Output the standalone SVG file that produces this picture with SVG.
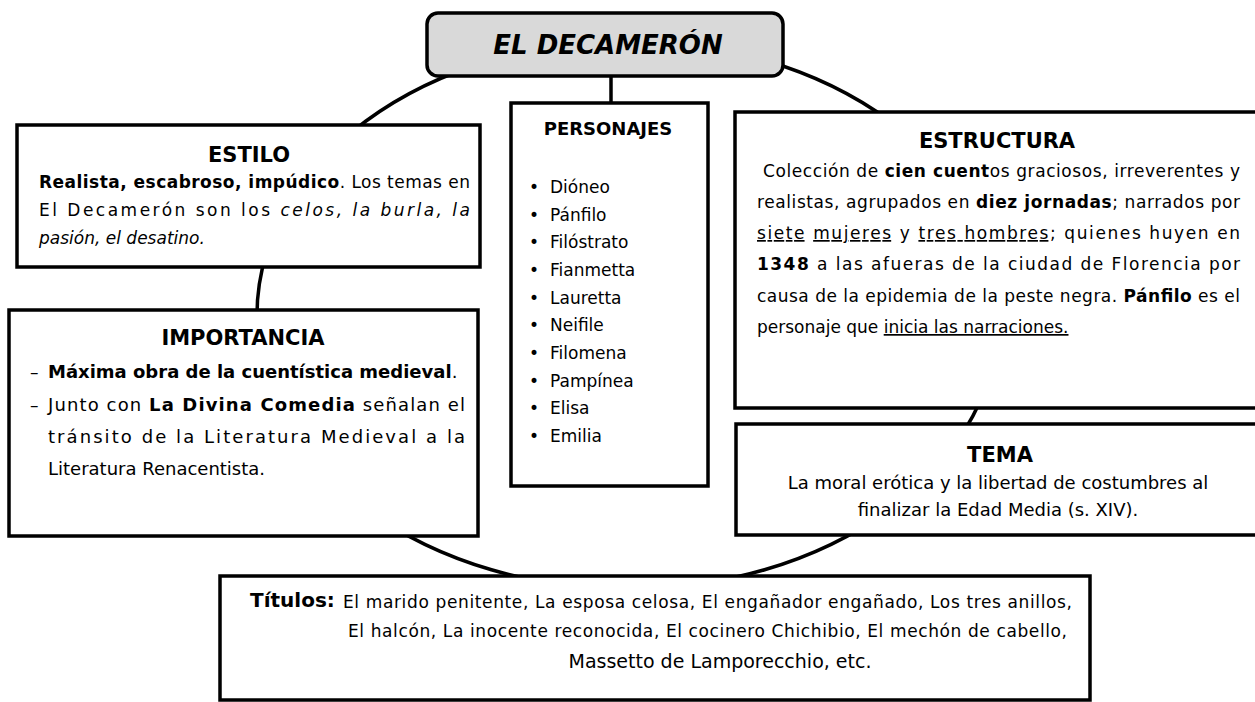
<svg xmlns="http://www.w3.org/2000/svg" width="1255" height="702" viewBox="0 0 1255 702">
<style>
.box{fill:#fff;stroke:#000;stroke-width:3.5}
.ttl{fill:#d9d9d9;stroke:#000;stroke-width:3.5}
.con{fill:none;stroke:#000;stroke-width:3.5}
text{font-family:'DejaVu Sans',sans-serif;fill:#000}
.h{font-weight:bold;font-size:21px;text-anchor:middle}
.t18{font-size:18px}
.t17{font-size:17px}
.c{text-anchor:middle}
.b{font-weight:bold}
.i{font-style:italic}
.u{text-decoration:underline}
</style>
<rect width="1255" height="702" fill="#fff"/>
<g id="connectors">
<ellipse class="con" cx="628" cy="315" rx="371" ry="274"/>
<line class="con" x1="611" y1="76" x2="611" y2="104"/>
</g>
<g id="title">
<rect class="ttl" x="427" y="13" width="356" height="63" rx="11"/>
<text x="608" y="54" text-anchor="middle" font-size="26" font-weight="bold" font-style="italic">EL DECAMERÓN</text>
</g>
<g id="estilo">
<rect class="box" x="17" y="125" width="463" height="142"/>
<text class="h" x="249" y="162">ESTILO</text>
<text class="t17" x="39" y="188" textLength="431" lengthAdjust="spacing"><tspan class="b">Realista, escabroso, impúdico</tspan>. Los temas en</text>
<text class="t17" x="39" y="216" textLength="431" lengthAdjust="spacing">El Decamerón son los <tspan class="i">celos, la burla, la</tspan></text>
<text class="t17 i" x="39" y="244">pasión, el desatino.</text>
</g>
<g id="importancia">
<rect class="box" x="9" y="310" width="469" height="226"/>
<text class="h" x="243" y="345">IMPORTANCIA</text>
<text class="t17" x="30" y="378">–</text>
<text class="t18" x="48" y="378"><tspan class="b">Máxima obra de la cuentística medieval</tspan>.</text>
<text class="t17" x="30" y="411">–</text>
<text class="t18" x="48" y="411" textLength="417" lengthAdjust="spacing">Junto con <tspan class="b">La Divina Comedia</tspan> señalan el</text>
<text class="t18" x="48" y="443" textLength="417" lengthAdjust="spacing">tránsito de la Literatura Medieval a la</text>
<text class="t18" x="48" y="475">Literatura Renacentista.</text>
</g>
<g id="personajes">
<rect class="box" x="511" y="103" width="197" height="383"/>
<text x="608" y="135" text-anchor="middle" font-size="18" font-weight="bold">PERSONAJES</text>
<g class="t17">
<text x="529" y="193">•</text><text x="550" y="193">Dióneo</text>
<text x="529" y="221">•</text><text x="550" y="221">Pánfilo</text>
<text x="529" y="248">•</text><text x="550" y="248">Filóstrato</text>
<text x="529" y="276">•</text><text x="550" y="276">Fianmetta</text>
<text x="529" y="304">•</text><text x="550" y="304">Lauretta</text>
<text x="529" y="331">•</text><text x="550" y="331">Neifile</text>
<text x="529" y="359">•</text><text x="550" y="359">Filomena</text>
<text x="529" y="387">•</text><text x="550" y="387">Pampínea</text>
<text x="529" y="414">•</text><text x="550" y="414">Elisa</text>
<text x="529" y="442">•</text><text x="550" y="442">Emilia</text>
</g>
</g>
<g id="estructura">
<rect class="box" x="735" y="112" width="530" height="296"/>
<text class="h" x="997" y="148">ESTRUCTURA</text>
<text class="t17" x="763" y="177" textLength="477" lengthAdjust="spacing">Colección de <tspan class="b">cien cuent</tspan>os graciosos, irreverentes y</text>
<text class="t17" x="757" y="208" textLength="483" lengthAdjust="spacing">realistas, agrupados en <tspan class="b">diez jornadas</tspan>; narrados por</text>
<text class="t17" x="757" y="239" textLength="483" lengthAdjust="spacing"><tspan class="u">siete</tspan> <tspan class="u">mujeres</tspan> y <tspan class="u">tres hombres</tspan>; quienes huyen en</text>
<text class="t17" x="757" y="270" textLength="483" lengthAdjust="spacing"><tspan class="b">1348</tspan> a las afueras de la ciudad de Florencia por</text>
<text class="t17" x="757" y="302" textLength="483" lengthAdjust="spacing">causa de la epidemia de la peste negra. <tspan class="b">Pánfilo</tspan> es el</text>
<text class="t17" x="757" y="333">personaje que <tspan class="u">inicia las narraciones.</tspan></text>
</g>
<g id="tema">
<rect class="box" x="736" y="424" width="529" height="111"/>
<text class="h" x="1000" y="462">TEMA</text>
<text class="t18 c" x="998" y="489">La moral erótica y la libertad de costumbres al</text>
<text class="t18 c" x="998" y="516">finalizar la Edad Media (s. XIV).</text>
</g>
<g id="titulos">
<rect class="box" x="220" y="576" width="870" height="124"/>
<text x="250" y="607" font-size="20" font-weight="bold">Títulos:</text>
<text class="t17" x="343" y="608" textLength="729" lengthAdjust="spacing">El marido penitente, La esposa celosa,  El engañador engañado, Los tres anillos,</text>
<text class="t17" x="348" y="637" textLength="719" lengthAdjust="spacing">El halcón, La inocente reconocida, El cocinero Chichibio, El mechón de cabello,</text>
<text x="720" y="668" text-anchor="middle" font-size="19">Massetto de Lamporecchio, etc.</text>
</g>
</svg>
